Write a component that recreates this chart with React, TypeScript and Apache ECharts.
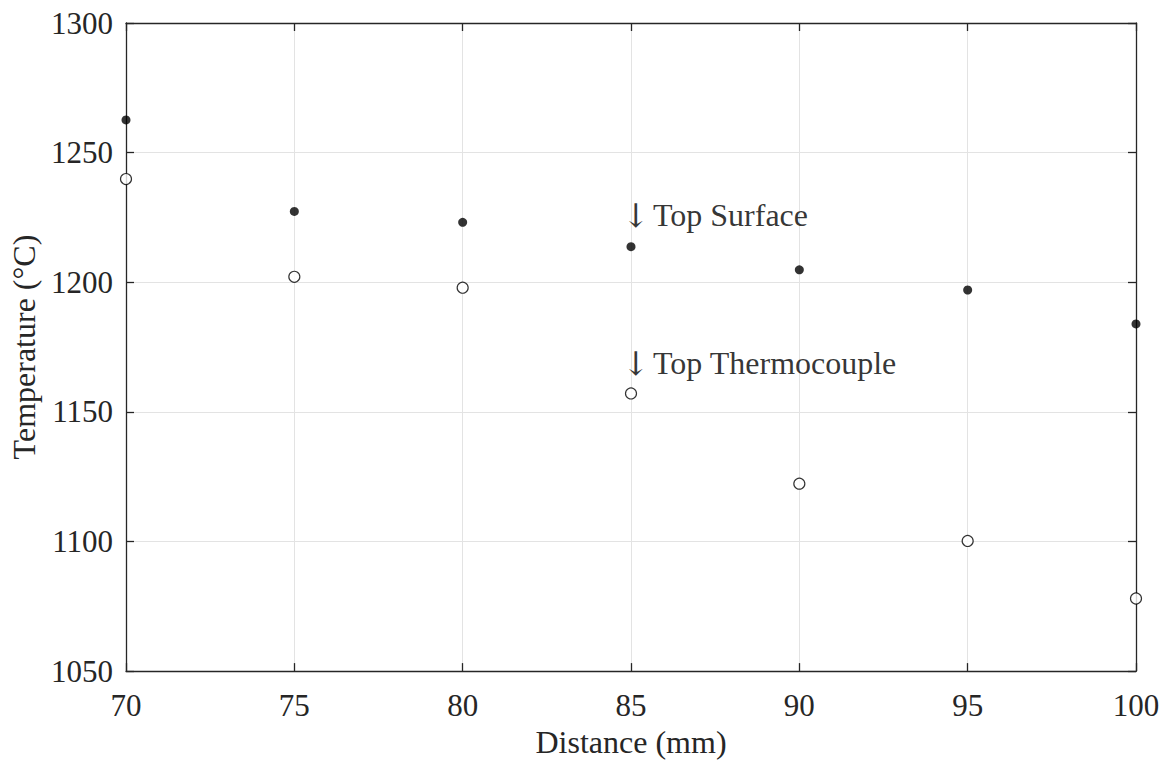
import React, { useEffect, useRef } from "react";
import * as echarts from "echarts";

const distances = [70, 75, 80, 85, 90, 95, 100];
const topSurface = [1262.6, 1227.3, 1223.1, 1213.7, 1204.8, 1197.0, 1183.9];
const topThermocouple = [1239.8, 1202.1, 1197.9, 1157.1, 1122.3, 1100.2, 1078.0];
const annotationTexts = ["Top Surface", "Top Thermocouple"];
const annotationX = [85, 85];
const annotationY = [1225.8, 1168.8];
const xTicks = { min: 70, max: 100, interval: 5 };
const yTicks = { min: 1050, max: 1300, interval: 50 };

const FONT = "Liberation Serif";
const AXIS_COLOR = "#262626";

export default function App() {
  const ref = useRef<HTMLDivElement>(null);
  useEffect(() => {
    if (!ref.current) return;
    const chart = echarts.init(ref.current, undefined, { renderer: "svg" });
    const axisLine = { show: true, onZero: false, lineStyle: { color: AXIS_COLOR, width: 1.3 } };
    const axisTick = { show: true, inside: true, length: 8, lineStyle: { color: AXIS_COLOR, width: 1.3 } };
    const splitLine = { show: true, lineStyle: { color: "#e3e3e3", width: 1 } };
    chart.setOption({
      animation: false,
      backgroundColor: "#ffffff",
      grid: { left: 126, right: 34, top: 23, bottom: 89, containLabel: false },
      xAxis: [
        {
          type: "value",
          ...xTicks,
          position: "bottom",
          name: "Distance (mm)",
          nameLocation: "middle",
          nameGap: 54,
          nameTextStyle: { fontFamily: FONT, fontSize: 32, color: AXIS_COLOR },
          axisLine,
          axisTick,
          splitLine,
          axisLabel: {
            fontFamily: FONT,
            fontSize: 31,
            color: AXIS_COLOR,
            margin: 19,
            formatter: (v: number) => String(v),
          },
        },
        {
          type: "value",
          ...xTicks,
          position: "top",
          axisLine,
          axisTick,
          splitLine: { show: false },
          axisLabel: { show: false },
        },
      ],
      yAxis: [
        {
          type: "value",
          ...yTicks,
          position: "left",
          name: "Temperature (\u00B0C)",
          nameLocation: "middle",
          nameGap: 84,
          nameTextStyle: { fontFamily: FONT, fontSize: 32, color: AXIS_COLOR },
          axisLine,
          axisTick,
          splitLine,
          axisLabel: {
            fontFamily: FONT,
            fontSize: 31,
            color: AXIS_COLOR,
            margin: 13,
            formatter: (v: number) => String(v),
          },
        },
        {
          type: "value",
          ...yTicks,
          position: "right",
          axisLine,
          axisTick,
          splitLine: { show: false },
          axisLabel: { show: false },
        },
      ],
      series: [
        {
          name: "Top Surface",
          type: "scatter",
          symbol: "circle",
          symbolSize: 9,
          itemStyle: { color: "#000000" },
          data: distances.map((d, i) => [d, topSurface[i]]),
          z: 5,
        },
        {
          name: "Top Thermocouple",
          type: "scatter",
          symbol: "circle",
          symbolSize: 11,
          itemStyle: { color: "#ffffff", borderColor: "#000000", borderWidth: 1.2 },
          data: distances.map((d, i) => [d, topThermocouple[i]]),
          z: 5,
        },
        {
          name: "annotations",
          type: "scatter",
          symbolSize: 0,
          silent: true,
          data: annotationX.map((x, i) => ({ value: [x, annotationY[i]], name: annotationTexts[i] })),
          label: {
            show: true,
            position: [-9, 0],
            align: "left",
            verticalAlign: "middle",
            formatter: (p: any) => "{a|\u2193} {t|" + p.name + "}",
            rich: {
              a: { fontFamily: "DejaVu Serif", fontSize: 33, color: "#000000" },
              t: { fontFamily: FONT, fontSize: 32, color: "#000000" },
            },
          },
        },
      ],
    });
    return () => chart.dispose();
  }, []);
  return (
    <div
      ref={ref}
      style={{ position: "fixed", left: 0, top: 0, width: 1170, height: 763, background: "#fff" }}
    />
  );
}
